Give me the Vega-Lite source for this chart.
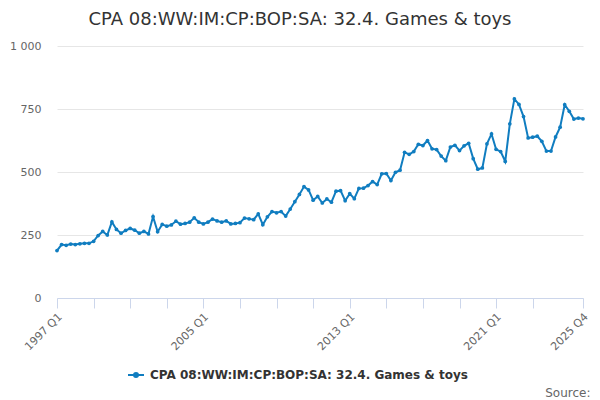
{
  "$schema": "https://vega.github.io/schema/vega-lite/v6.json",
  "width": 526,
  "height": 252,
  "autosize": "none",
  "padding": {"left": 57, "top": 46, "right": 17, "bottom": 102},
  "title": {
    "text": "CPA 08:WW:IM:CP:BOP:SA: 32.4. Games & toys",
    "fontSize": 18,
    "fontWeight": "normal",
    "color": "#333333",
    "font": "DejaVu Sans",
    "anchor": "middle",
    "dx": -20,
    "offset": 11
  },
  "data": {
    "values": [
      {"q": "1997 Q1", "v": 188}, {"q": "1997 Q2", "v": 212}, {"q": "1997 Q3", "v": 209}, {"q": "1997 Q4", "v": 214},
      {"q": "1998 Q1", "v": 212}, {"q": "1998 Q2", "v": 215}, {"q": "1998 Q3", "v": 217}, {"q": "1998 Q4", "v": 217},
      {"q": "1999 Q1", "v": 225}, {"q": "1999 Q2", "v": 248}, {"q": "1999 Q3", "v": 264}, {"q": "1999 Q4", "v": 250},
      {"q": "2000 Q1", "v": 302}, {"q": "2000 Q2", "v": 272}, {"q": "2000 Q3", "v": 257}, {"q": "2000 Q4", "v": 268},
      {"q": "2001 Q1", "v": 276}, {"q": "2001 Q2", "v": 269}, {"q": "2001 Q3", "v": 257}, {"q": "2001 Q4", "v": 264},
      {"q": "2002 Q1", "v": 254}, {"q": "2002 Q2", "v": 323}, {"q": "2002 Q3", "v": 263}, {"q": "2002 Q4", "v": 292},
      {"q": "2003 Q1", "v": 285}, {"q": "2003 Q2", "v": 290}, {"q": "2003 Q3", "v": 305}, {"q": "2003 Q4", "v": 293},
      {"q": "2004 Q1", "v": 296}, {"q": "2004 Q2", "v": 301}, {"q": "2004 Q3", "v": 318}, {"q": "2004 Q4", "v": 301},
      {"q": "2005 Q1", "v": 294}, {"q": "2005 Q2", "v": 301}, {"q": "2005 Q3", "v": 313}, {"q": "2005 Q4", "v": 306},
      {"q": "2006 Q1", "v": 301}, {"q": "2006 Q2", "v": 306}, {"q": "2006 Q3", "v": 294}, {"q": "2006 Q4", "v": 296},
      {"q": "2007 Q1", "v": 299}, {"q": "2007 Q2", "v": 317}, {"q": "2007 Q3", "v": 314}, {"q": "2007 Q4", "v": 311},
      {"q": "2008 Q1", "v": 334}, {"q": "2008 Q2", "v": 291}, {"q": "2008 Q3", "v": 322}, {"q": "2008 Q4", "v": 343},
      {"q": "2009 Q1", "v": 338}, {"q": "2009 Q2", "v": 343}, {"q": "2009 Q3", "v": 325}, {"q": "2009 Q4", "v": 353},
      {"q": "2010 Q1", "v": 382}, {"q": "2010 Q2", "v": 411}, {"q": "2010 Q3", "v": 442}, {"q": "2010 Q4", "v": 429},
      {"q": "2011 Q1", "v": 388}, {"q": "2011 Q2", "v": 403}, {"q": "2011 Q3", "v": 377}, {"q": "2011 Q4", "v": 393},
      {"q": "2012 Q1", "v": 380}, {"q": "2012 Q2", "v": 424}, {"q": "2012 Q3", "v": 426}, {"q": "2012 Q4", "v": 386},
      {"q": "2013 Q1", "v": 414}, {"q": "2013 Q2", "v": 394}, {"q": "2013 Q3", "v": 435}, {"q": "2013 Q4", "v": 436},
      {"q": "2014 Q1", "v": 446}, {"q": "2014 Q2", "v": 462}, {"q": "2014 Q3", "v": 450}, {"q": "2014 Q4", "v": 493},
      {"q": "2015 Q1", "v": 494}, {"q": "2015 Q2", "v": 466}, {"q": "2015 Q3", "v": 499}, {"q": "2015 Q4", "v": 507},
      {"q": "2016 Q1", "v": 578}, {"q": "2016 Q2", "v": 570}, {"q": "2016 Q3", "v": 581}, {"q": "2016 Q4", "v": 610},
      {"q": "2017 Q1", "v": 605}, {"q": "2017 Q2", "v": 625}, {"q": "2017 Q3", "v": 592}, {"q": "2017 Q4", "v": 589},
      {"q": "2018 Q1", "v": 563}, {"q": "2018 Q2", "v": 545}, {"q": "2018 Q3", "v": 599}, {"q": "2018 Q4", "v": 606},
      {"q": "2019 Q1", "v": 585}, {"q": "2019 Q2", "v": 604}, {"q": "2019 Q3", "v": 614}, {"q": "2019 Q4", "v": 553},
      {"q": "2020 Q1", "v": 511}, {"q": "2020 Q2", "v": 516}, {"q": "2020 Q3", "v": 612}, {"q": "2020 Q4", "v": 651},
      {"q": "2021 Q1", "v": 590}, {"q": "2021 Q2", "v": 581}, {"q": "2021 Q3", "v": 542}, {"q": "2021 Q4", "v": 691},
      {"q": "2022 Q1", "v": 790}, {"q": "2022 Q2", "v": 768}, {"q": "2022 Q3", "v": 720}, {"q": "2022 Q4", "v": 635},
      {"q": "2023 Q1", "v": 638}, {"q": "2023 Q2", "v": 642}, {"q": "2023 Q3", "v": 622}, {"q": "2023 Q4", "v": 583},
      {"q": "2024 Q1", "v": 583}, {"q": "2024 Q2", "v": 639}, {"q": "2024 Q3", "v": 678}, {"q": "2024 Q4", "v": 767},
      {"q": "2025 Q1", "v": 741}, {"q": "2025 Q2", "v": 710}, {"q": "2025 Q3", "v": 714}, {"q": "2025 Q4", "v": 711}
    ]
  },
  "mark": {
    "type": "line",
    "strokeWidth": 2,
    "point": {"filled": true, "size": 14}
  },
  "encoding": {
    "x": {
      "field": "q",
      "type": "ordinal",
      "sort": null,
      "scale": {"type": "point", "padding": 0},
      "axis": {
        "title": "Source:",
        "titleAnchor": "end",
        "titleAlign": "right",
        "titleX": 533,
        "titleFont": "DejaVu Sans",
        "titleFontSize": 12,
        "titleFontWeight": "normal",
        "titleColor": "#666666",
        "titlePadding": 36,
        "values": ["1997 Q1", "1999 Q1", "2001 Q1", "2003 Q1", "2005 Q1", "2007 Q1", "2009 Q1", "2011 Q1", "2013 Q1", "2015 Q1", "2017 Q1", "2019 Q1", "2021 Q1", "2023 Q1", "2025 Q4"],
        "labelExpr": "indexof(['1997 Q1', '2005 Q1', '2013 Q1', '2021 Q1', '2025 Q4'], datum.value) >= 0 ? datum.label : ''",
        "labelAngle": -45,
        "labelAlign": "right",
        "labelBaseline": "middle",
        "labelFont": "DejaVu Sans",
        "labelFontSize": 11,
        "labelColor": "#666666",
        "labelPadding": 7,
        "labelOffset": 3,
        "labelOverlap": false,
        "domainColor": "#ccd6eb",
        "tickColor": "#ccd6eb",
        "tickSize": 10,
        "grid": false
      }
    },
    "y": {
      "field": "v",
      "type": "quantitative",
      "scale": {"domain": [0, 1000], "nice": false},
      "axis": {
        "title": null,
        "values": [0, 250, 500, 750, 1000],
        "labelExpr": "replace(format(datum.value, ','), ',', ' ')",
        "labelFont": "DejaVu Sans",
        "labelFontSize": 11,
        "labelColor": "#666666",
        "labelPadding": 16,
        "ticks": false,
        "domain": false,
        "gridColor": "#e6e6e6"
      }
    },
    "color": {
      "datum": "CPA 08:WW:IM:CP:BOP:SA: 32.4. Games & toys",
      "scale": {"range": ["#107dc0"]},
      "legend": {
        "title": null,
        "orient": "none",
        "legendX": 70,
        "legendY": 320,
        "labelFont": "DejaVu Sans",
        "labelFontSize": 12,
        "labelFontWeight": "bold",
        "labelColor": "#333333",
        "labelLimit": 500,
        "symbolType": "M-1,0H1M-0.25,0a0.25,0.25 0 1,0 0.5,0a0.25,0.25 0 1,0 -0.5,0",
        "symbolSize": 256,
        "symbolStrokeWidth": 2,
        "symbolFillColor": "#107dc0",
        "labelOffset": 5
      }
    }
  },
  "config": {
    "view": {"stroke": null}
  }
}
